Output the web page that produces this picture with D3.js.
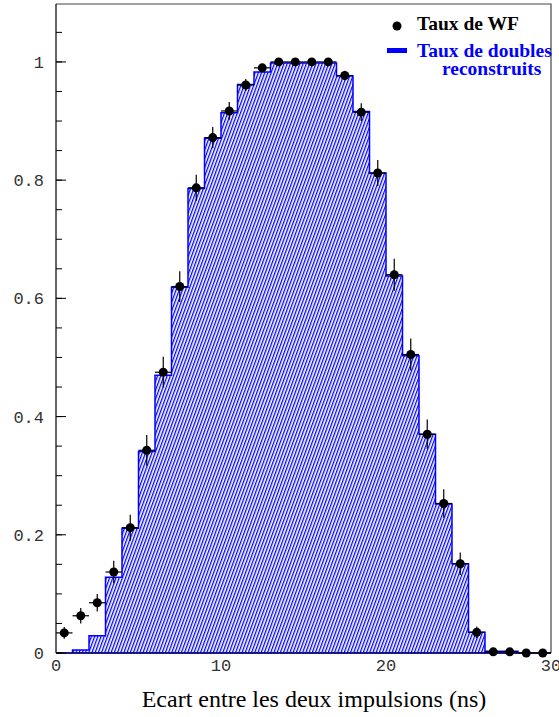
<!DOCTYPE html>
<html>
<head>
	<meta charset="UTF-8">
	<script src="https://d3js.org/d3.v7.min.js"></script>
	<title>Taux de WF</title>
	<style>
		body { margin: 0; background: #fff; }
		svg { display: block; }
	</style>
</head>
<body>
	<svg></svg>
	<script type="text/javascript">
		const width = 559;
		const height = 717;
		const margin = ({top: 4, right: 8, bottom: 64, left: 56});
		const serif = "'Liberation Serif', 'Times New Roman', serif";
		const mono = "'Liberation Mono', 'Courier New', monospace";

		// bords gauches des classes (ns)
		const binLeft = [0, 1, 2, 3, 4, 5, 6, 7, 8, 9, 10, 11, 12, 13, 14, 15, 16, 17, 18, 19, 20, 21, 22, 23, 24, 25, 26, 27, 28, 29];
		const binWidth = 1;
		// taux de doubles reconstruits (histogramme)
		const tauxDoubles = [0, 0.005, 0.029, 0.128, 0.211, 0.341, 0.470, 0.619, 0.786, 0.871, 0.914, 0.962, 0.983, 0.998, 0.998, 0.998, 0.998, 0.976, 0.916, 0.812, 0.638, 0.503, 0.370, 0.252, 0.151, 0.035, 0.003, 0.003, 0, 0];
		// taux de WF (points) et erreurs
		const tauxWF = [0.034, 0.063, 0.085, 0.137, 0.212, 0.343, 0.475, 0.620, 0.787, 0.872, 0.917, 0.961, 0.990, 1.0, 1.0, 1.0, 1.0, 0.977, 0.915, 0.812, 0.640, 0.505, 0.370, 0.253, 0.151, 0.035, 0.002, 0.002, 0, 0];
		const errWF = [0.010, 0.013, 0.015, 0.019, 0.022, 0.026, 0.026, 0.026, 0.022, 0.018, 0.015, 0.010, 0.006, 0.002, 0.002, 0.002, 0.002, 0.008, 0.015, 0.022, 0.027, 0.027, 0.025, 0.024, 0.019, 0.010, 0.003, 0.003, 0, 0];

		const xTicks = [0, 10, 20, 30];
		const yTicks = [0, 0.2, 0.4, 0.6, 0.8, 1];
		const yMinor = d3.range(0, 1.1, 0.05);

		const x = d3.scaleLinear()
			.domain([0, 30])
			.range([margin.left, width - margin.right]);

		const y = d3.scaleLinear()
			.domain([0, 1.098])
			.range([height - margin.bottom, margin.top]);

		const svg = d3.select("svg")
			.attr("width", width)
			.attr("height", height)
			.attr("viewBox", [0, 0, width, height]);

		svg.append("defs").append("pattern")
			.attr("id", "hatch")
			.attr("patternUnits", "userSpaceOnUse")
			.attr("width", 3)
			.attr("height", 10)
			.attr("patternTransform", "rotate(20)")
			.append("rect")
				.attr("x", 0)
				.attr("y", 0)
				.attr("width", 1.3)
				.attr("height", 10)
				.attr("fill", "#0000ff");

		// histogramme
		const hist = binLeft.map((b, i) => ({x: b, v: tauxDoubles[i]}));
		hist.push({x: binLeft[binLeft.length - 1] + binWidth, v: tauxDoubles[tauxDoubles.length - 1]});

		const area = d3.area()
			.curve(d3.curveStepAfter)
			.x(d => x(d.x))
			.y0(y(0))
			.y1(d => y(d.v));

		svg.append("path")
			.datum(hist)
			.attr("d", area)
			.attr("fill", "url(#hatch)")
			.attr("stroke", "#0000ff")
			.attr("stroke-width", 1.5);

		// cadre
		svg.append("path")
			.attr("d", `M${x(0)},${y.range()[1]}H${x(30)}V${y(0)}`)
			.attr("fill", "none")
			.attr("stroke", "#444")
			.attr("stroke-width", 1.2);

		svg.append("line")
			.attr("x1", x(0)).attr("x2", x(30))
			.attr("y1", y(0)).attr("y2", y(0))
			.attr("stroke", "#000")
			.attr("stroke-width", 1);

		// axe y
		const yAxis = svg.append("g");
		yAxis.append("line")
			.attr("x1", x(0)).attr("x2", x(0))
			.attr("y1", y.range()[1]).attr("y2", y(0))
			.attr("stroke", "#000")
			.attr("stroke-width", 1.2);

		yAxis.selectAll(".minor")
			.data(yMinor)
			.join("line")
				.attr("x1", x(0)).attr("x2", x(0) + 6)
				.attr("y1", d => y(d)).attr("y2", d => y(d))
				.attr("stroke", "#000");

		yAxis.selectAll(".major")
			.data(yTicks)
			.join("line")
				.attr("x1", x(0)).attr("x2", x(0) + 10)
				.attr("y1", d => y(d)).attr("y2", d => y(d))
				.attr("stroke", "#000");

		yAxis.selectAll("text")
			.data(yTicks)
			.join("text")
				.attr("x", 44)
				.attr("y", d => y(d))
				.attr("dy", "0.35em")
				.attr("text-anchor", "end")
				.attr("font-family", mono)
				.attr("font-size", 17)
				.attr("fill", "#333")
				.text(d => d3.format("~g")(d));

		// axe x
		svg.append("g").selectAll("text")
			.data(xTicks)
			.join("text")
				.attr("x", d => x(d))
				.attr("y", 671)
				.attr("text-anchor", "middle")
				.attr("font-family", mono)
				.attr("font-size", 17)
				.attr("fill", "#333")
				.text(d => d);

		svg.append("text")
			.attr("x", 314)
			.attr("y", 707)
			.attr("text-anchor", "middle")
			.attr("font-family", serif)
			.attr("font-size", 24)
			.attr("fill", "#000")
			.text("Ecart entre les deux impulsions (ns)");

		// points avec barres d'erreur
		const pts = binLeft.map((b, i) => ({x: b + binWidth / 2, v: tauxWF[i], e: errWF[i]}));

		const pg = svg.append("g")
			.attr("stroke", "#000")
			.attr("stroke-width", 1.2);

		pg.selectAll(".ex")
			.data(pts)
			.join("line")
				.attr("x1", d => x(d.x - binWidth / 2))
				.attr("x2", d => x(d.x + binWidth / 2))
				.attr("y1", d => y(d.v))
				.attr("y2", d => y(d.v));

		pg.selectAll(".ey")
			.data(pts.filter(d => d.e > 0))
			.join("line")
				.attr("x1", d => x(d.x))
				.attr("x2", d => x(d.x))
				.attr("y1", d => y(d.v - d.e))
				.attr("y2", d => y(d.v + d.e));

		svg.append("g").selectAll("circle")
			.data(pts)
			.join("circle")
				.attr("cx", d => x(d.x))
				.attr("cy", d => y(d.v))
				.attr("r", 4.5)
				.attr("fill", "#000");

		// legende
		const leg = svg.append("g")
			.attr("font-family", serif)
			.attr("font-weight", "bold")
			.attr("font-size", 19.5);

		leg.append("circle")
			.attr("cx", 397)
			.attr("cy", 26)
			.attr("r", 4.5)
			.attr("fill", "#000");

		leg.append("text")
			.attr("x", 417)
			.attr("y", 30)
			.attr("fill", "#000")
			.text("Taux de WF");

		leg.append("rect")
			.attr("x", 387)
			.attr("y", 48)
			.attr("width", 20)
			.attr("height", 5)
			.attr("fill", "#0000ff");

		leg.append("text")
			.attr("x", 417)
			.attr("y", 57)
			.attr("fill", "#0000ff")
			.text("Taux de doubles");

		leg.append("text")
			.attr("x", 442)
			.attr("y", 75)
			.attr("fill", "#0000ff")
			.text("reconstruits");
	</script>
</body>
</html>
